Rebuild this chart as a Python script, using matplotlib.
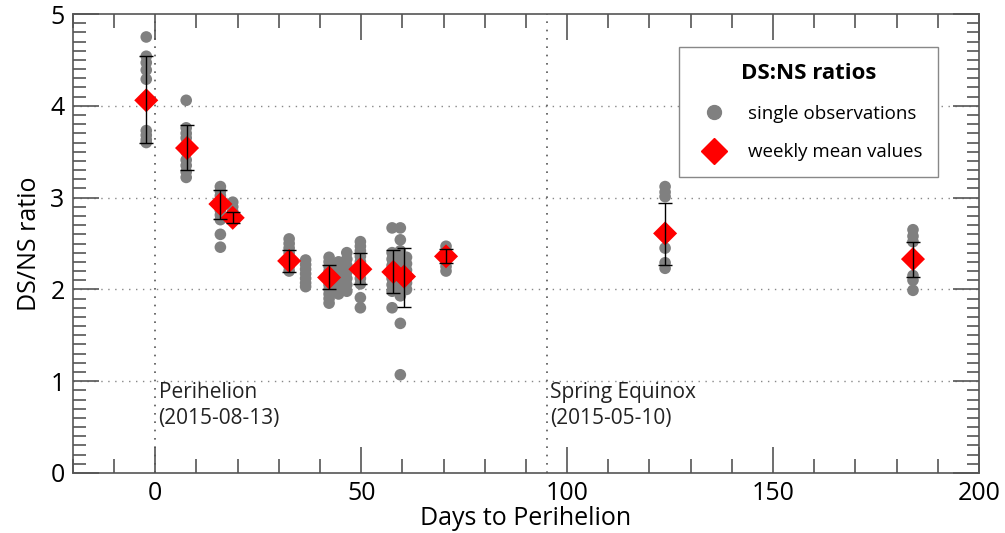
import matplotlib.pyplot as plt
from matplotlib.ticker import MultipleLocator
from matplotlib.lines import Line2D

plt.rcParams['font.family'] = ['Open Sans', 'DejaVu Sans']

# single observations (days to perihelion, DS:NS ratio)
obs_x = ([-2.2] * 9 + [7.5] * 10 + [15.8] * 10 + [18.8] * 5 + [32.5] * 8 + [36.5] * 7
         + [42.2] * 11 + [44.5] * 6 + [46.5] * 7 + [49.8] * 11 + [57.5] * 9
         + [59.5] * 12 + [61.0] * 6 + [70.6] * 6 + [123.8] * 6 + [184.0] * 6)
obs_y = [4.75, 4.54, 4.47, 4.39, 4.29, 3.73, 3.68, 3.63, 3.60,
         4.06, 3.76, 3.70, 3.65, 3.57, 3.50, 3.41, 3.35, 3.28, 3.22,
         3.12, 3.07, 3.02, 2.97, 2.92, 2.86, 2.81, 2.76, 2.60, 2.46,
         2.95, 2.90, 2.85, 2.80, 2.76,
         2.55, 2.50, 2.45, 2.40, 2.35, 2.30, 2.25, 2.20,
         2.32, 2.27, 2.22, 2.17, 2.12, 2.07, 2.03,
         2.35, 2.30, 2.25, 2.20, 2.15, 2.10, 2.05, 2.00, 1.95, 1.90, 1.85,
         2.30, 2.22, 2.15, 2.08, 2.00, 1.95,
         2.40, 2.33, 2.26, 2.19, 2.12, 2.05, 1.98,
         2.52, 2.47, 2.42, 2.36, 2.30, 2.24, 2.18, 2.12, 2.06, 1.91, 1.80,
         2.67, 2.40, 2.33, 2.26, 2.19, 2.12, 2.05, 1.98, 1.80,
         2.67, 2.54, 2.42, 2.35, 2.28, 2.21, 2.14, 2.07, 2.00, 1.93, 1.63, 1.07,
         2.35, 2.28, 2.21, 2.14, 2.07, 2.00,
         2.47, 2.42, 2.36, 2.31, 2.25, 2.20,
         3.12, 3.06, 3.01, 2.45, 2.29, 2.23,
         2.65, 2.58, 2.52, 2.15, 2.10, 1.99]

# weekly means with error range
mean_x = [-2.2, 7.7, 15.8, 18.8, 32.5, 42.2, 49.8, 57.8, 60.4, 70.6, 123.8, 184.0]
mean_y = [4.06, 3.54, 2.93, 2.78, 2.31, 2.13, 2.22, 2.19, 2.14, 2.36, 2.61, 2.33]
err_lo = [3.59, 3.30, 2.77, 2.72, 2.19, 2.00, 2.06, 1.96, 1.81, 2.29, 2.27, 2.14]
err_hi = [4.54, 3.79, 3.08, 2.84, 2.43, 2.27, 2.40, 2.43, 2.45, 2.44, 2.94, 2.52]

fig = plt.figure(figsize=(10.05, 5.33), dpi=100)
ax = fig.add_axes([0.0726, 0.1126, 0.9014, 0.8611])

ax.scatter(obs_x, obs_y, s=70, color='#808080', edgecolors='none', zorder=2)
ax.scatter(mean_x, mean_y, s=150, marker='D', color='red', edgecolors='none', zorder=3)
yerr = [[m - lo for m, lo in zip(mean_y, err_lo)], [hi - m for m, hi in zip(mean_y, err_hi)]]
ax.errorbar(mean_x, mean_y, yerr=yerr, fmt='none', ecolor='black', elinewidth=1,
            capsize=5, capthick=1, zorder=4)

ax.set_xlim(-20, 200)
ax.set_ylim(0, 5)
for yv in [1, 2, 3, 4]:
    ax.axhline(yv, color='#888888', linestyle=(0, (1, 4)), linewidth=1, zorder=1)
for xv in [0, 95]:
    ax.axvline(xv, color='#555555', linestyle=(0, (1, 4)), linewidth=1.2, zorder=1)

ax.text(0.8, 0.99, 'Perihelion\n(2015-08-13)', fontsize=15, va='top', ha='left', color='#222222',
        linespacing=1.3)
ax.text(95.8, 0.99, 'Spring Equinox\n(2015-05-10)', fontsize=15, va='top', ha='left', color='#222222',
        linespacing=1.3)

ax.xaxis.set_major_locator(MultipleLocator(50))
ax.xaxis.set_minor_locator(MultipleLocator(10))
ax.yaxis.set_major_locator(MultipleLocator(1))
ax.yaxis.set_minor_locator(MultipleLocator(0.1))
ax.tick_params(which='both', direction='in', top=True, right=True, color='#555555', width=1.2)
ax.tick_params(axis='x', which='major', length=19, labelsize=18, pad=6)
ax.tick_params(axis='x', which='minor', length=10)
ax.tick_params(axis='y', which='major', length=19, labelsize=18, pad=6)
ax.tick_params(axis='y', which='minor', length=9)
for sp in ax.spines.values():
    sp.set_color('#555555')
    sp.set_linewidth(1.2)

ax.set_xlabel('Days to Perihelion', fontsize=18, labelpad=0)
ax.set_ylabel('DS/NS ratio', fontsize=18, labelpad=6)

handles = [Line2D([], [], marker='o', color='#808080', linestyle='none', markersize=10),
           Line2D([], [], marker='D', color='red', linestyle='none', markersize=13)]
leg = ax.legend(handles, ['single observations', 'weekly mean values'], title='DS:NS ratios',
                loc='upper right', bbox_to_anchor=(0.955, 0.928), fontsize=13.5,
                title_fontproperties={'weight': 'bold', 'size': 16}, fancybox=False,
                edgecolor='#888888', framealpha=1, labelspacing=1.1, borderpad=0.85,
                handletextpad=0.8, borderaxespad=0)
leg.get_frame().set_linewidth(1)

fig.savefig('out.png', dpi=100)
